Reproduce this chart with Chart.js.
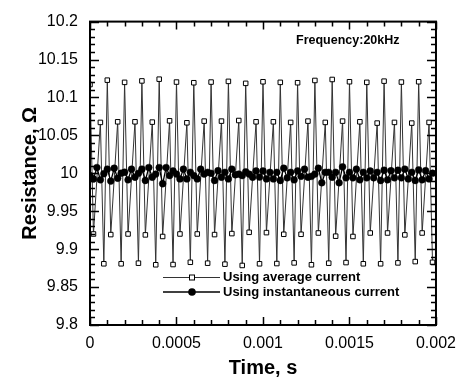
<!DOCTYPE html>
<html>
<head>
<meta charset="utf-8">
<script src="https://cdn.jsdelivr.net/npm/chart.js@4.4.0/dist/chart.umd.min.js"></script>
<style>
  html, body { margin: 0; padding: 0; background: #fff; }
  #wrap { width: 465px; height: 379px; }
</style>
</head>
<body>
<div id="wrap"><canvas id="grafico" width="465" height="379"></canvas></div>
<script>
// times (s)
var tempoMedia = [
  0, 0.00002, 0.00006, 0.00008, 0.0001, 0.00012, 0.00016, 0.00018,
  0.0002, 0.00022, 0.00026, 0.00028, 0.0003, 0.00032, 0.00036, 0.00038,
  0.0004, 0.00042, 0.00046, 0.00048, 0.0005, 0.00052, 0.00056, 0.00058,
  0.0006, 0.00062, 0.00066, 0.00068, 0.0007, 0.00072, 0.00076, 0.00078,
  0.0008, 0.00082, 0.00086, 0.00088, 0.0009, 0.00092, 0.00096, 0.00098,
  0.001, 0.00102, 0.00106, 0.00108, 0.0011, 0.00112, 0.00116, 0.00118,
  0.0012, 0.00122, 0.00126, 0.00128, 0.0013, 0.00132, 0.00136, 0.00138,
  0.0014, 0.00142, 0.00146, 0.00148, 0.0015, 0.00152, 0.00156, 0.00158,
  0.0016, 0.00162, 0.00166, 0.00168, 0.0017, 0.00172, 0.00176, 0.00178,
  0.0018, 0.00182, 0.00186, 0.00188, 0.0019, 0.00192, 0.00196, 0.00198
];
// resistance using average current (ohm)
var resMedia = [
  10.117, 9.920, 10.0671, 9.8807, 10.1228, 9.9192, 10.0679, 9.8807,
  10.1199, 9.9200, 10.0679, 9.8815, 10.1218, 9.9188, 10.0675, 9.8794,
  10.1241, 9.9167, 10.0692, 9.8797, 10.1203, 9.9200, 10.0666, 9.8827,
  10.1194, 9.9200, 10.0688, 9.8815, 10.1203, 9.9192, 10.0688, 9.8802,
  10.1212, 9.9205, 10.0696, 9.8785, 10.1186, 9.9222, 10.0679, 9.8807,
  10.1207, 9.9218, 10.0679, 9.8810, 10.1199, 9.9196, 10.0671, 9.8819,
  10.1194, 9.9196, 10.0688, 9.8794, 10.1224, 9.9213, 10.0671, 9.8815,
  10.1237, 9.9171, 10.0688, 9.8823, 10.1207, 9.9167, 10.0679, 9.8807,
  10.1199, 9.9213, 10.0662, 9.8807, 10.1215, 9.9213, 10.0671, 9.8819,
  10.1203, 9.9188, 10.0662, 9.8836, 10.1207, 9.9213, 10.0671, 9.8827
];
var tempoInst = [
  0, 0.00002, 0.00004, 0.00006, 0.00008, 0.0001, 0.00012, 0.00014, 0.00016, 0.00018,
  0.0002, 0.00022, 0.00024, 0.00026, 0.00028, 0.0003, 0.00032, 0.00034, 0.00036, 0.00038,
  0.0004, 0.00042, 0.00044, 0.00046, 0.00048, 0.0005, 0.00052, 0.00054, 0.00056, 0.00058,
  0.0006, 0.00062, 0.00064, 0.00066, 0.00068, 0.0007, 0.00072, 0.00074, 0.00076, 0.00078,
  0.0008, 0.00082, 0.00084, 0.00086, 0.00088, 0.0009, 0.00092, 0.00094, 0.00096, 0.00098,
  0.001, 0.00102, 0.00104, 0.00106, 0.00108, 0.0011, 0.00112, 0.00114, 0.00116, 0.00118,
  0.0012, 0.00122, 0.00124, 0.00126, 0.00128, 0.0013, 0.00132, 0.00134, 0.00136, 0.00138,
  0.0014, 0.00142, 0.00144, 0.00146, 0.00148, 0.0015, 0.00152, 0.00154, 0.00156, 0.00158,
  0.0016, 0.00162, 0.00164, 0.00166, 0.00168, 0.0017, 0.00172, 0.00174, 0.00176, 0.00178,
  0.0018, 0.00182, 0.00184, 0.00186, 0.00188, 0.0019, 0.00192, 0.00194, 0.00196, 0.00198
];
// resistance using instantaneous current (ohm)
var resInst = [
  9.9970, 9.9926, 10.0076, 9.9914, 9.9994, 10.0055, 9.9897, 10.0067, 9.9935, 10.0001,
  10.0014, 9.9914, 10.0055, 9.9948, 10.0000, 10.0055, 9.9905, 10.0076, 9.9948, 9.9990,
  10.0076, 9.9862, 10.0076, 9.9970, 10.0030, 9.9990, 9.9926, 10.0055, 9.9926, 10.0013,
  9.9970, 9.9926, 10.0055, 9.9990, 10.0013, 10.0000, 9.9905, 10.0034, 9.9948, 10.0013,
  9.9926, 10.0055, 9.9980, 9.9990, 9.9970, 10.0020, 9.9990, 9.9948, 10.0030, 9.9950,
  10.0030, 9.9926, 10.0013, 9.9926, 10.0013, 9.9905, 10.0067, 9.9940, 10.0013, 9.9914,
  10.0030, 9.9960, 10.0055, 9.9948, 9.9960, 9.9990, 10.0067, 9.9875, 10.0013, 10.0013,
  9.9948, 10.0013, 9.9875, 10.0085, 9.9940, 10.0013, 9.9940, 10.0055, 9.9914, 10.0013,
  9.9940, 10.0030, 9.9940, 10.0013, 9.9905, 10.0040, 9.9914, 10.0034, 9.9940, 10.0040,
  9.9940, 10.0055, 9.9926, 10.0013, 9.9905, 10.0045, 9.9914, 10.0034, 9.9926, 10.0001
];
var ticksX = [0, 0.0005, 0.001, 0.0015, 0.002];
var ticksY = [9.8, 9.85, 9.9, 9.95, 10, 10.05, 10.1, 10.15, 10.2];

function pares(xs, ys) {
  var out = [];
  for (var i = 0; i < xs.length; i++) out.push({ x: xs[i], y: ys[i] });
  return out;
}

// ticks para dentro nos 4 lados + moldura + textos
var moldura = {
  id: 'moldura',
  afterDraw: function (chart) {
    var ctx = chart.ctx;
    var a = chart.chartArea;
    var sx = chart.scales.x, sy = chart.scales.y;
    ctx.save();
    ctx.strokeStyle = '#000';
    ctx.lineWidth = 1.5;
    ctx.beginPath();
    // x: major 0.0005, minor 0.0001
    for (var i = 0; i <= 20; i++) {
      var px = Math.round(sx.getPixelForValue(i * 0.0001)) + 0.5;
      var len = (i % 5 === 0) ? 8 : 5;
      ctx.moveTo(px, a.bottom); ctx.lineTo(px, a.bottom - len);
      ctx.moveTo(px, a.top); ctx.lineTo(px, a.top + len);
    }
    // y: major 0.05, minor 0.01
    for (var j = 0; j <= 40; j++) {
      var py = Math.round(sy.getPixelForValue(9.8 + j * 0.01)) + 0.5;
      var l2 = (j % 5 === 0) ? 9 : 5;
      ctx.moveTo(a.left, py); ctx.lineTo(a.left + l2, py);
      ctx.moveTo(a.right, py); ctx.lineTo(a.right - l2, py);
    }
    ctx.stroke();
    ctx.lineWidth = 2;
    ctx.strokeRect(a.left, a.top, a.right - a.left, a.bottom - a.top);

    // titulos
    ctx.fillStyle = '#000';
    ctx.textAlign = 'center';
    ctx.textBaseline = 'middle';
    ctx.font = 'bold 20px "Liberation Sans", Arial, sans-serif';
    ctx.fillText('Time, s', (a.left + a.right) / 2, 368);
    ctx.save();
    ctx.translate(30, (a.top + a.bottom) / 2);
    ctx.rotate(-Math.PI / 2);
    ctx.fillText('Resistance, Ω', 0, 0);
    ctx.restore();

    ctx.font = 'bold 12.5px "Liberation Sans", Arial, sans-serif';
    ctx.textAlign = 'left';
    ctx.fillText('Frequency:20kHz', 296, 41);

    // legenda
    ctx.font = 'bold 13px "Liberation Sans", Arial, sans-serif';
    ctx.lineWidth = 1;
    ctx.strokeStyle = '#333';
    ctx.beginPath(); ctx.moveTo(163, 277.5); ctx.lineTo(220, 277.5); ctx.stroke();
    ctx.fillStyle = '#fff';
    ctx.fillRect(189.5, 275, 5, 5);
    ctx.strokeStyle = '#000';
    ctx.strokeRect(189.5, 275, 5, 5);
    ctx.fillStyle = '#000';
    ctx.fillText('Using average current', 223, 277.5);

    ctx.lineWidth = 1.5;
    ctx.beginPath(); ctx.moveTo(163, 292); ctx.lineTo(220, 292); ctx.stroke();
    ctx.beginPath(); ctx.arc(192, 292, 3.8, 0, Math.PI * 2); ctx.fill();
    ctx.fillText('Using instantaneous current', 223, 292);
    ctx.restore();
  }
};

var ctx = document.getElementById('grafico').getContext('2d');
var meuGrafico = new Chart(ctx, {
  type: 'line',
  data: {
    datasets: [
      {
        label: 'Using instantaneous current',
        data: pares(tempoInst, resInst),
        borderColor: '#000',
        borderWidth: 1.3,
        pointStyle: 'circle',
        pointRadius: 3.4,
        pointBorderWidth: 0.5,
        pointBackgroundColor: '#000',
        pointBorderColor: '#000',
        tension: 0,
        order: 1
      },
      {
        label: 'Using average current',
        data: pares(tempoMedia, resMedia),
        borderColor: '#333',
        borderWidth: 1,
        pointStyle: 'rect',
        pointRadius: 3.2,
        pointBorderWidth: 1,
        pointBackgroundColor: '#fff',
        pointBorderColor: '#000',
        tension: 0,
        order: 2
      }
    ]
  },
  options: {
    responsive: false,
    animation: false,
    events: [],
    layout: { padding: { top: 14, right: 25, left: 0, bottom: 0 } },
    plugins: {
      legend: { display: false },
      tooltip: { enabled: false }
    },
    scales: {
      x: {
        type: 'linear',
        min: 0,
        max: 0.002,
        afterFit: function (s) { s.height = 54; },
        afterBuildTicks: function (s) { s.ticks = ticksX.map(function (v) { return { value: v }; }); },
        grid: { display: false, drawTicks: false },
        border: { display: false },
        ticks: {
          padding: 9,
          color: '#000',
          font: { family: '"Liberation Sans", Arial, sans-serif', size: 16 },
          maxRotation: 0,
          callback: function (v) { return String(Number(v.toFixed(4))); }
        }
      },
      y: {
        type: 'linear',
        min: 9.8,
        max: 10.2,
        afterFit: function (s) { s.width = 90; },
        afterBuildTicks: function (s) { s.ticks = ticksY.map(function (v) { return { value: v }; }); },
        grid: { display: false, drawTicks: false },
        border: { display: false },
        ticks: {
          padding: 12,
          color: '#000',
          font: { family: '"Liberation Sans", Arial, sans-serif', size: 16 },
          callback: function (v) { return String(Number(v.toFixed(2))); }
        }
      }
    }
  },
  plugins: [moldura]
});
</script>
</body>
</html>
